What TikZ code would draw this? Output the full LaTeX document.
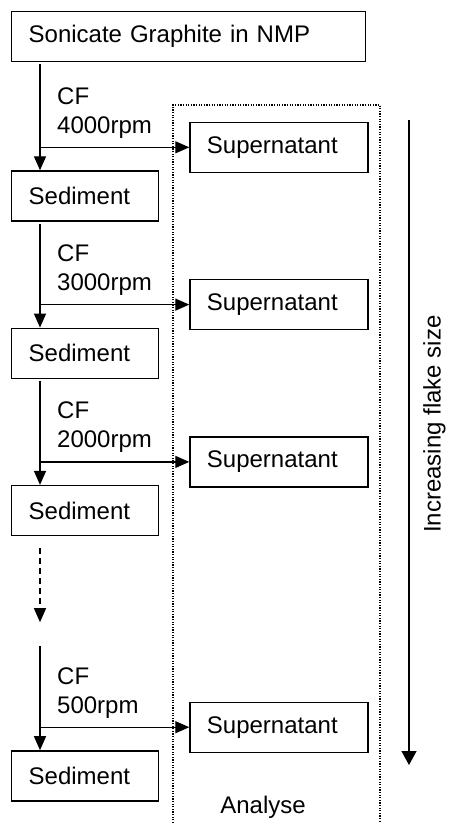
\documentclass[tikz,border=0pt]{standalone}
\usepackage{fontspec}
\setmainfont{Liberation Sans}
\usetikzlibrary{arrows.meta,positioning}

\begin{document}
\begin{tikzpicture}[
    x=1pt, y=1pt,
    node distance=106pt and 30pt,
    box/.style={draw, line width=1.3pt, align=left, font=\fontsize{24}{29}\selectfont,
                minimum height=50pt, inner xsep=17pt, inner ysep=0pt},
    lbl/.style={align=left, font=\fontsize{24}{29}\selectfont, inner sep=0pt},
    arrow/.style={-{Triangle[length=14pt, width=12pt]}, line width=1.3pt},
    frame/.style={dash pattern=on 1.3pt off 1.3pt, line width=1.3pt}
  ]
    \useasboundingbox (0,0) rectangle (448,-823);

    \node[box, text width=320pt, anchor=north west] (sonic) at (11,-11) {Sonicate Graphite in NMP};
    \node[box, text width=113pt, below=108pt of sonic.south west, anchor=north west] (sed1) {Sediment};
    \node[box, text width=113pt, below=of sed1] (sed2) {Sediment};
    \node[box, text width=113pt, below=of sed2] (sed3) {Sediment};
    \node[box, text width=113pt, below=214pt of sed3] (sed4) {Sediment};

    \node[box, text width=144pt, above right=23pt and 30pt of sed1.north east, anchor=west] (sup1) {Supernatant};
    \node[box, text width=144pt, above right=23pt and 30pt of sed2.north east, anchor=west] (sup2) {Supernatant};
    \node[box, text width=144pt, above right=23pt and 30pt of sed3.north east, anchor=west] (sup3) {Supernatant};
    \node[box, text width=144pt, above right=23pt and 30pt of sed4.north east, anchor=west] (sup4) {Supernatant};

    \coordinate (spine) at ([xshift=29pt]sed1.north west);
    \coordinate (b1) at (sup1.west -| spine);
    \coordinate (b2) at (sup2.west -| spine);
    \coordinate (b3) at (sup3.west -| spine);
    \coordinate (b4) at (sup4.west -| spine);
    \coordinate (skip) at ([yshift=-86pt]sed3.south -| spine);
    \coordinate (resume) at ([yshift=-110pt]sed3.south -| spine);

    \draw[arrow, shorten <=2pt] (sonic.south -| spine) -- (sed1.north -| spine);
    \draw[arrow, shorten <=2pt] (sed1.south -| spine) -- (sed2.north -| spine);
    \draw[arrow, shorten <=2pt] (sed2.south -| spine) -- (sed3.north -| spine);
    \draw[arrow, dash pattern=on 6pt off 4pt, shorten <=12pt] (sed3.south -| spine) -- (skip);
    \draw[arrow] (resume) -- (sed4.north -| spine);

    \draw[arrow] (b1) -- (sup1.west);
    \draw[arrow] (b2) -- (sup2.west);
    \draw[arrow] (b3) -- (sup3.west);
    \draw[arrow] (b4) -- (sup4.west);

    \node[lbl, above right=9pt and 17pt of b1] (cf1) {CF\\4000rpm};
    \node[lbl, above right=9pt and 17pt of b2] (cf2) {CF\\3000rpm};
    \node[lbl, above right=9pt and 17pt of b3] (cf3) {CF\\2000rpm};
    \node[lbl, above right=9pt and 17pt of b4] (cf4) {CF\\500rpm};

    \draw[frame] (173,-823) |- (380,-105) -- (380,-823);
    \node[lbl] (analyse) at (263,-807) {Analyse};

    \coordinate (flaketop) at (409,-120);
    \coordinate (flakebot) at (409,-765);
    \draw[-{Triangle[length=14pt, width=15pt]}, line width=1.3pt] (flaketop) -- (flakebot);
    \node[lbl, rotate=90, anchor=north] (flake) at (423,-424) {Increasing flake size};
  \end{tikzpicture}
\end{document}
